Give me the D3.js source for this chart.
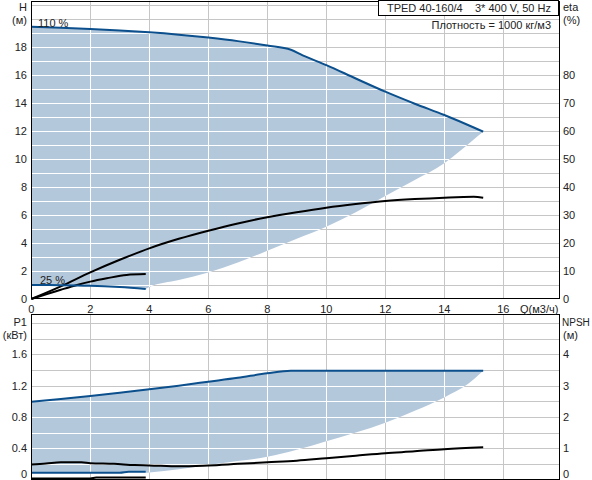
<!DOCTYPE html>
<html>
<head>
<meta charset="utf-8">
<script src="https://cdn.jsdelivr.net/npm/d3@7"></script>
<style>
  body { margin: 0; background: #fff; }
  svg text { font-family: "Liberation Sans", Arial, sans-serif; font-size: 11px; fill: #222; }
</style>
</head>
<body>
<div id="chart"></div>
<script>
// flow axis
const qTicks = [0, 2, 4, 6, 8, 10, 12, 14, 16];

// head, 110 % speed (upper limit)
const qHi = [0, 1, 2, 3, 4, 5, 6, 7, 8, 8.8, 9.2, 10, 11, 12, 13, 14, 15, 15.32];
const hHi = [19.45, 19.38, 19.29, 19.18, 19.05, 18.88, 18.67, 18.42, 18.1, 17.8, 17.4, 16.71, 15.75, 14.81, 13.95, 13.14, 12.25, 11.95];
// head, 25 % speed
const qLo = [0, 1, 2, 3, 3.88];
const hLo = [1.0, 0.99, 0.95, 0.85, 0.72];
// lower edge of the operating area
const qMin = [3.88, 4, 5, 6, 7, 8, 9, 10, 11, 12, 13, 14, 15, 15.32];
const hMin = [0.72, 0.85, 1.35, 1.9, 2.6, 3.45, 4.3, 5.16, 6.2, 7.35, 8.5, 9.7, 11.4, 11.95];

// efficiency
const qEtaHi = [0, 1, 2, 3, 4, 5, 6, 7, 8, 9, 10, 11, 12, 13, 14, 15, 15.32];
const etaHi = [0, 4.5, 9.5, 14, 18.1, 21.5, 24.4, 27, 29.2, 31, 32.6, 33.9, 35, 35.7, 36.2, 36.5, 36.2];
const qEtaLo = [0, 1, 1.55, 2, 2.56, 3.23, 3.88];
const etaLo = [0, 3.3, 5, 6.2, 7.4, 8.6, 8.9];

// power P1
const qP1Hi = [0, 1, 2, 3, 4, 5, 6, 7, 8, 8.8, 15.32];
const p1Hi = [0.995, 1.03, 1.068, 1.11, 1.153, 1.2, 1.25, 1.3, 1.358, 1.39, 1.39];
const qP1Lo = [0, 3, 3.3, 3.88];
const p1Lo = [0.087, 0.087, 0.1, 0.1];
const qP1Min = [3.88, 4, 5, 6, 7, 8, 9, 10, 11, 12, 13, 14, 14.8, 15.32];
const p1Min = [0.085, 0.09, 0.13, 0.185, 0.235, 0.29, 0.38, 0.49, 0.6, 0.726, 0.88, 1.05, 1.22, 1.39];

// NPSH
const qNpshHi = [0, 0.5, 1, 1.7, 2, 2.8, 3.5, 4, 5, 6, 7, 8, 9, 10, 11, 12, 13, 14, 15.32];
const npshHi = [0.48, 0.51, 0.55, 0.55, 0.52, 0.5, 0.46, 0.45, 0.42, 0.45, 0.5, 0.55, 0.6, 0.68, 0.76, 0.84, 0.9, 0.97, 1.03];
const qNpshLo = [0, 2, 2.2, 3.88];
const npshLo = [0.03, 0.03, 0.06, 0.06];

// tick labels
const hTicks = [0, 2, 4, 6, 8, 10, 12, 14, 16, 18];
const etaTicks = [0, 10, 20, 30, 40, 50, 60, 70, 80];
const p1Ticks = [0, 0.4, 0.8, 1.2, 1.6];
const npshTicks = [0, 1, 2, 3, 4];

const W = 592, H = 480;
const BLUE = '#0b4f8c', FILL = '#b4c8dc', GRID = '#c6c6c6';

const svg = d3.select('#chart').append('svg')
    .attr('width', W).attr('height', H);

const x = d3.scaleLinear().domain([0, 17.89]).range([31.3, 559]);

// top panel scales
const yH = d3.scaleLinear().domain([0, 21.3]).range([299, 0.8]);
const yEta = d3.scaleLinear().domain([0, 106.5]).range([299, 0.8]);
// bottom panel scales
const yP = d3.scaleLinear().domain([0, 2.116]).range([479.5, 314]);
const yN = d3.scaleLinear().domain([0, 5.29]).range([479.5, 314]);

const zip = (qs, vs) => qs.map((q, i) => [q, vs[i]]);

function curvePath(pts, yScale) {
  return d3.line().x((d) => x(d[0])).y((d) => yScale(d[1])).curve(d3.curveMonotoneX)(pts);
}

function drawPanel(id, yScale, hGrid, area, lines) {
  const [y0, y1] = yScale.range();
  const x0 = x.range()[0], x1 = x.range()[1];
  const g = svg.append('g');
  const vGrid = qTicks.filter((d) => d > 0);

  function grid(parent, color) {
    parent.selectAll(null).data(vGrid).enter().append('line')
      .attr('x1', (d) => Math.round(x(d)) + 0.5).attr('x2', (d) => Math.round(x(d)) + 0.5)
      .attr('y1', y1).attr('y2', y0).attr('stroke', color);
    parent.selectAll(null).data(hGrid).enter().append('line')
      .attr('x1', x0).attr('x2', x1)
      .attr('y1', (d) => Math.round(yScale(d)) + 0.5).attr('y2', (d) => Math.round(yScale(d)) + 0.5)
      .attr('stroke', color);
  }

  grid(g, GRID);

  // operating area: upper curve forward, lower edge back, low-speed curve back
  const topPath = curvePath(area.top, yScale);
  const minPath = curvePath(area.min.slice().reverse(), yScale);
  const loPath = curvePath(area.low.slice().reverse(), yScale);
  const fillD = topPath + 'L' + minPath.slice(1) + 'L' + loPath.slice(1) + 'Z';

  svg.append('clipPath').attr('id', 'clip' + id)
    .append('path').attr('d', fillD);

  g.append('path').attr('d', fillD).attr('fill', FILL);

  // white grid inside the area
  grid(g.append('g').attr('clip-path', 'url(#clip' + id + ')'), '#fff');

  lines.forEach((l) => {
    g.append('path')
      .attr('d', curvePath(l.data, l.scale))
      .attr('fill', 'none').attr('stroke', l.color).attr('stroke-width', 2);
  });

  // frame
  g.append('rect')
    .attr('x', Math.round(x0) + 0.5).attr('y', Math.round(y1) + 0.5)
    .attr('width', Math.round(x1 - x0)).attr('height', Math.round(y0 - y1) - 1)
    .attr('fill', 'none').attr('stroke', '#000');
  return g;
}

// ---- upper panel: head + efficiency
drawPanel('head', yH, d3.range(1, 22),
  { top: zip(qHi, hHi), min: zip(qMin, hMin), low: zip(qLo, hLo) },
  [
    { data: zip(qEtaHi, etaHi), scale: yEta, color: '#000' },
    { data: zip(qEtaLo, etaLo), scale: yEta, color: '#000' },
    { data: zip(qLo, hLo), scale: yH, color: BLUE },
    { data: zip(qHi, hHi), scale: yH, color: BLUE }
  ]);

// ---- lower panel: power + NPSH
drawPanel('power', yP, d3.range(1, 11).map((d) => d * 0.2),
  { top: zip(qP1Hi, p1Hi), min: zip(qP1Min, p1Min), low: zip(qP1Lo, p1Lo) },
  [
    { data: zip(qNpshHi, npshHi), scale: yN, color: '#000' },
    { data: zip(qNpshLo, npshLo), scale: yN, color: '#000' },
    { data: zip(qP1Lo, p1Lo), scale: yP, color: BLUE },
    { data: zip(qP1Hi, p1Hi), scale: yP, color: BLUE }
  ]);

// tick labels
svg.selectAll('.ht').data(hTicks).enter().append('text')
  .attr('x', 27).attr('y', (d) => yH(d) + 4).attr('text-anchor', 'end').text((d) => d);
svg.selectAll('.et').data(etaTicks).enter().append('text')
  .attr('x', 563).attr('y', (d) => yEta(d) + 4).text((d) => d);
svg.selectAll('.pt').data(p1Ticks).enter().append('text')
  .attr('x', 27).attr('y', (d) => Math.min(yP(d) + 4, 478)).attr('text-anchor', 'end').text((d) => d);
svg.selectAll('.nt').data(npshTicks).enter().append('text')
  .attr('x', 563).attr('y', (d) => Math.min(yN(d) + 4, 478)).text((d) => d);
svg.selectAll('.qt').data(qTicks).enter().append('text')
  .attr('x', (d) => x(d)).attr('y', 313).attr('text-anchor', 'middle').text((d) => d);
svg.append('text').attr('x', 520).attr('y', 313).text('Q(м3/ч)');

// axis titles
svg.append('text').attr('x', 27).attr('y', 11).attr('text-anchor', 'end').text('H');
svg.append('text').attr('x', 27).attr('y', 24).attr('text-anchor', 'end').text('(м)');
svg.append('text').attr('x', 563).attr('y', 11).text('eta');
svg.append('text').attr('x', 563).attr('y', 24).text('(%)');
svg.append('text').attr('x', 27).attr('y', 326).attr('text-anchor', 'end').text('P1');
svg.append('text').attr('x', 27).attr('y', 339).attr('text-anchor', 'end').text('(кВт)');
svg.append('text').attr('x', 562).attr('y', 326).style('font-size', '10px').text('NPSH');
svg.append('text').attr('x', 563).attr('y', 339).text('(м)');

// curve labels
svg.append('text').attr('x', 38).attr('y', 27).text('110 %');
svg.append('text').attr('x', 40).attr('y', 284).text('25 %');

// title box
svg.append('rect').attr('x', 378.5).attr('y', 0.5).attr('width', 180).attr('height', 15)
  .attr('fill', '#fff').attr('stroke', '#000');
svg.append('text').attr('x', 551).attr('y', 12).attr('text-anchor', 'end')
  .style('white-space', 'pre').text('TPED 40-160/4    3* 400 V, 50 Hz');
svg.append('text').attr('x', 551).attr('y', 29).attr('text-anchor', 'end')
  .text('Плотность = 1000 кг/м3');
</script>
</body>
</html>
